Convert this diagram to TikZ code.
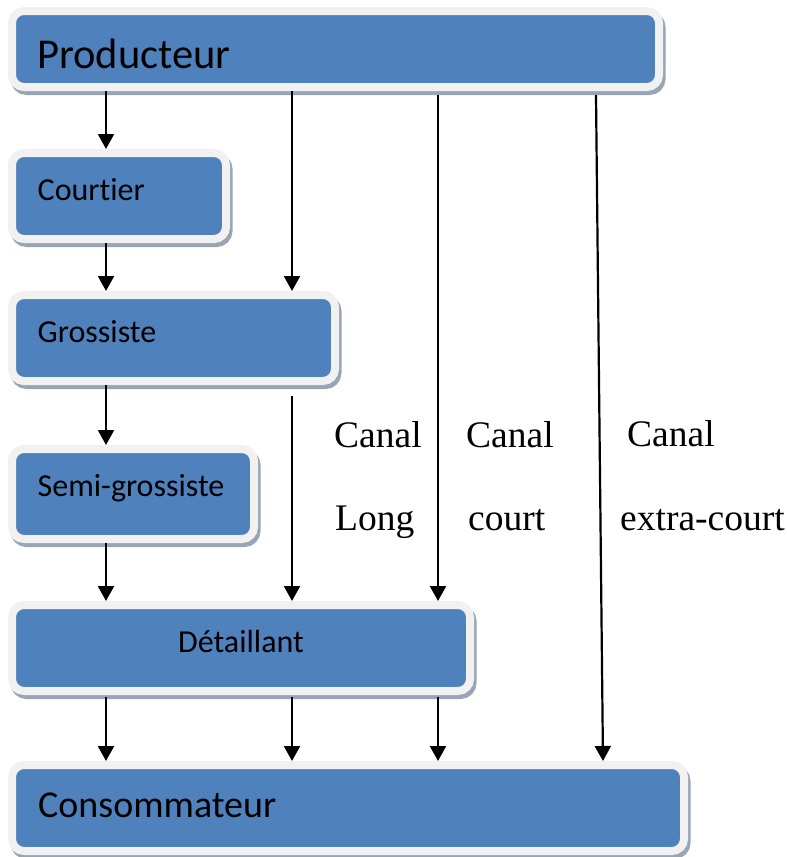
\documentclass[tikz,border=0pt]{standalone}
\usepackage{fontspec}
\setmainfont{Liberation Serif}
\newfontfamily\boxfont[Ligatures={NoCommon,NoContextual}]{Carlito}
\usetikzlibrary{arrows.meta}

\definecolor{boxblue}{HTML}{4F81BD}
\definecolor{rimgray}{HTML}{F1F1F1}
\definecolor{shadowgray}{HTML}{98A5B6}

\tikzset{
  actor/.style={draw=rimgray, fill=boxblue, line width=8pt, rounded corners=12pt,
    inner sep=0pt,
    preaction={draw=shadowgray, fill=shadowgray, line width=8pt,
      transform canvas={xshift=2.5pt,yshift=-4pt}}},
  flow/.style={line width=2.2pt, -{Triangle[width=16pt,length=15pt]}},
  boxtext/.style={anchor=base west, inner sep=0pt},
  canal/.style={anchor=base west, inner sep=0pt, font=\fontsize{37.5}{40}\selectfont},
}

\begin{document}
\begin{tikzpicture}[x=1pt, y=-1pt]
\useasboundingbox (0,0) rectangle (787,857);

% boxes of the distribution chain
\node[actor, minimum width=647pt, minimum height=76pt] (prod)  at (335.5,49) {};
\node[actor, minimum width=214pt, minimum height=86pt] (court) at (119,196) {};
\node[actor, minimum width=323pt, minimum height=86pt] (gros)  at (173.5,338) {};
\node[actor, minimum width=242pt, minimum height=90pt] (semi)  at (133,494) {};
\node[actor, minimum width=458pt, minimum height=86pt] (det)   at (241,648) {};
\node[actor, minimum width=672pt, minimum height=86pt] (cons)  at (348,808) {};

% box captions
\node[boxtext, font=\boxfont\fontsize{42.5}{46}\selectfont] (prodtxt) at (37,68) {Producteur};
\node[boxtext, font=\boxfont\fontsize{32}{36}\selectfont] (courttxt) at (37.5,200) {Courtier};
\node[boxtext, font=\boxfont\fontsize{32}{36}\selectfont] (grostxt) at (37.5,342) {Grossiste};
\node[boxtext, font=\boxfont\fontsize{32}{36}\selectfont] (semitxt) at (37.5,496) {Semi-grossiste};
\node[anchor=base, inner sep=0pt, font=\boxfont\fontsize{32}{36}\selectfont] (dettxt) at (241,652) {Détaillant};
\node[boxtext, font=\boxfont\fontsize{38}{42}\selectfont] (constxt) at (38,817) {Consommateur};

% channel names
\node[canal] (l1a) at (334,447) {Canal};
\node[canal] (l1b) at (335,530) {Long};
\node[canal] (l2a) at (466,447) {Canal};
\node[canal] (l2b) at (468,530) {court};
\node[canal] (l3a) at (627,446) {Canal};
\node[canal] (l3b) at (620,530) {extra-court};

% columns of the flows
\coordinate (c1) at (106,0);
\coordinate (c2) at (292,0);
\coordinate (c3) at (438,0);
\coordinate (c4top) at (596,0);
\coordinate (c4bot) at (603,0);

% long channel
\draw[flow] (prod.south -| c1) -- (court.north -| c1);
\draw[flow] (court.south -| c1) -- (gros.north -| c1);
\draw[flow] (gros.south -| c1) -- (semi.north -| c1);
\draw[flow] (semi.south -| c1) -- (det.north -| c1);
\draw[flow] ([yshift=-2pt]det.south -| c1) -- (cons.north -| c1);

% second column
\draw[flow] (prod.south -| c2) -- (gros.north -| c2);
\draw[flow] ([yshift=-11pt]gros.south -| c2) -- (det.north -| c2);
\draw[flow] ([yshift=-2pt]det.south -| c2) -- (cons.north -| c2);

% short channel
\draw[flow] ([yshift=-4pt]prod.south -| c3) -- (det.north -| c3);
\draw[flow] ([yshift=-2pt]det.south -| c3) -- (cons.north -| c3);

% extra-short channel
\draw[flow] ([yshift=-4pt]prod.south -| c4top) -- (cons.north -| c4bot);
\end{tikzpicture}
\end{document}
